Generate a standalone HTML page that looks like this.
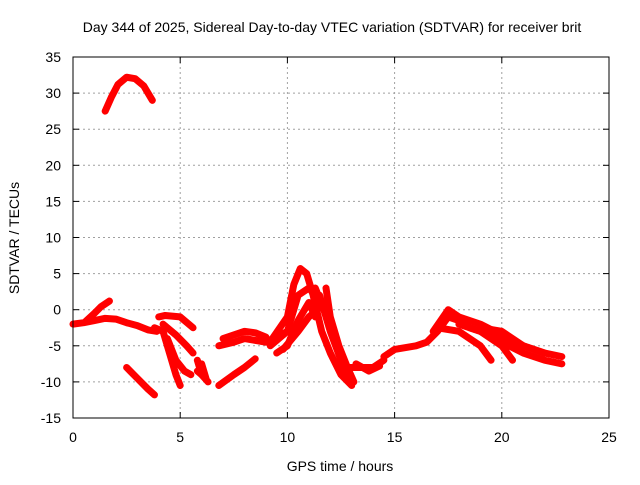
<!DOCTYPE html>
<html><head><meta charset="utf-8"><style>
body{margin:0;background:#fff}
svg text{font-family:"Liberation Sans",sans-serif;font-size:14px;fill:#000}
</style></head><body>
<svg id="c" width="640" height="480">
<rect width="640" height="480" fill="#fff"/>
<g id="grid"></g><g id="tracks"></g><g id="axes"></g>
<text x="332" y="32" text-anchor="middle">Day 344 of 2025, Sidereal Day-to-day VTEC variation (SDTVAR) for receiver brit</text>
<text x="340" y="471" text-anchor="middle">GPS time / hours</text>
<text transform="translate(19,238) rotate(-90)" text-anchor="middle">SDTVAR / TECUs</text>
</svg>
<script>
const xTicks=[0,5,10,15,20,25];
const yTicks=[-15,-10,-5,0,5,10,15,20,25,30,35];
const track1=[[1.5,27.5],[1.8,29.5],[2.1,31.2],[2.5,32.2],[2.9,32],[3.3,31],[3.7,29]];
const track2=[[2.5,-8],[3,-9.5],[3.5,-11],[3.8,-11.8]];
const track3=[[0,-2],[0.5,-1.8],[1,-1.5],[1.5,-1.2],[2,-1.3],[2.5,-1.8],[3,-2.2],[3.5,-2.8],[3.9,-3]];
const track4=[[0.6,-1.6],[1,-0.5],[1.3,0.4],[1.7,1.2]];
const track5=[[3.8,-2.5],[4.2,-3],[4.5,-6],[4.8,-9],[5,-10.5]];
const track6=[[4,-1],[4.3,-0.8],[5,-1],[5.6,-2.5]];
const track7=[[4.2,-2],[4.8,-3.5],[5.3,-5],[5.6,-6]];
const track8=[[4.4,-4],[4.8,-7],[5.2,-8.5],[5.5,-9]];
const track9=[[5.8,-7],[6,-9],[6.3,-10]];
const track10=[[6.8,-10.5],[7.5,-9],[8,-8],[8.5,-6.8]];
const track11=[[6.8,-5],[7.5,-4.5],[8,-4],[9,-4.5],[10,-3]];
const track12=[[9.3,-4],[10,-1],[10.3,3.5],[10.6,5.7],[10.9,5],[11.2,2],[11.6,-3],[12,-6],[12.5,-9],[13,-10.5]];
const track13=[[9.5,-6],[10,-5],[10.5,-1.5],[11,1],[11.3,-1]];
const track14=[[9.2,-5],[10,-3],[10.5,2],[11,3],[11.3,2]];
const track15=[[11.8,3],[12,-1],[12.4,-5],[12.8,-8],[13.1,-10]];
const track16=[[12.8,-8],[13.5,-8],[14,-8],[14.5,-7]];
const track17=[[14.5,-6.5],[15,-5.5],[16,-5],[16.5,-4.5],[17,-3],[17.5,-1]];
const track18=[[17.5,-1],[18,-1.5],[18.5,-2.5],[19.5,-3.5],[20,-4.5],[21,-6],[22,-7],[22.8,-7.5]];
const track19=[[17,-2.5],[18,-3],[19,-5],[19.5,-7]];
const track20=[[18,-2],[19,-3],[20,-5],[20.5,-7]];
const track21=[[19,-2.5],[20,-3],[21,-5],[22,-6],[22.8,-6.5]];
const track22=[[11.5,2],[12,-3],[12.5,-7],[13,-10]];
const track23=[[11.3,3],[11.7,0],[12.2,-4],[12.7,-8],[13,-9.5]];
const track24=[[7,-4],[7.5,-3.5],[8,-3],[8.5,-3.2],[9,-3.8]];
const track25=[[5.8,-8.5],[6.2,-9.5],[6,-7.5]];
const track26=[[13.2,-7.5],[13.8,-8.5],[14.3,-7.8]];
const track27=[[16.8,-3],[17.5,0],[18,-1],[19,-2],[20,-3.5],[21,-5],[22,-6]];
const track28=[[9.8,-5.5],[10.5,-3],[11,-1],[11.4,0]];
const tracks=[track1,track2,track3,track4,track5,track6,track7,track8,track9,track10,track11,track12,track13,track14,track15,track16,track17,track18,track19,track20,track21,track22,track23,track24,track25,track26,track27,track28];
const X0=73,X1=609,Y0=418,Y1=57;
const sx=t=>X0+t/25*(X1-X0), sy=v=>Y0-(v+15)/50*(Y0-Y1);
const NS="http://www.w3.org/2000/svg";
function mk(tag,attrs,parent){const e=document.createElementNS(NS,tag);for(const k in attrs)e.setAttribute(k,attrs[k]);parent.appendChild(e);return e;}
const G=document.getElementById('grid'),T=document.getElementById('tracks'),A=document.getElementById('axes');
xTicks.forEach(t=>{
 if(t>0&&t<25){const l=mk('line',{x1:sx(t),x2:sx(t),y1:Y1,y2:Y0,stroke:'#a0a0a0','stroke-dasharray':'2,3'},G);
 }
 mk('line',{x1:sx(t),x2:sx(t),y1:Y0,y2:Y0-6,stroke:'#000'},A);
 mk('line',{x1:sx(t),x2:sx(t),y1:Y1,y2:Y1+6,stroke:'#000'},A);
 const tx=mk('text',{x:sx(t),y:Y0+24,'text-anchor':'middle'},A);tx.textContent=t;
 
});
yTicks.forEach(v=>{
 if(v>-15&&v<35){const l=mk('line',{x1:X0,x2:X1,y1:sy(v),y2:sy(v),stroke:'#a0a0a0','stroke-dasharray':'2,3'},G);
 }
 mk('line',{x1:X0,x2:X0+6,y1:sy(v),y2:sy(v),stroke:'#000'},A);
 mk('line',{x1:X1,x2:X1-6,y1:sy(v),y2:sy(v),stroke:'#000'},A);
 const tx=mk('text',{x:X0-12,y:sy(v)+5,'text-anchor':'end'},A);tx.textContent=v;
 
});
const fr=mk('rect',{x:X0,y:Y1,width:X1-X0,height:Y0-Y1,fill:'none',stroke:'#000'},A);

tracks.forEach(tr=>{
 const p=mk('polyline',{points:tr.map(d=>sx(d[0])+','+sy(d[1])).join(' '),fill:'none',stroke:'#f00','stroke-width':7,'stroke-linejoin':'round','stroke-linecap':'round'},T);
 
});
</script>
</body></html>
